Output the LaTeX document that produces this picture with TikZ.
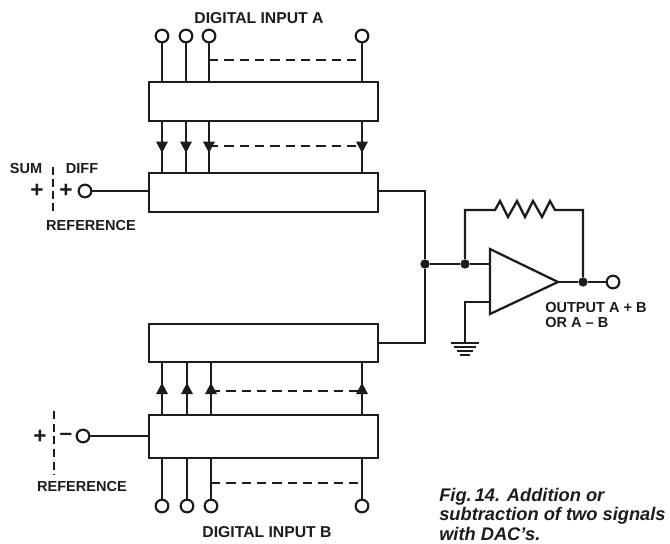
\documentclass[tikz,border=0pt]{standalone}
\usepackage{fontspec}
\setmainfont{Liberation Sans}
\usetikzlibrary{positioning, calc, arrows.meta, decorations.markings}
\definecolor{ink}{HTML}{1C1C1C}

\begin{document}
\begin{tikzpicture}[
    x=0.75pt,
    y=-0.75pt,
    color=ink,
    font=\fontsize{10.9}{11.4}\selectfont\bfseries,
    wire/.style={draw, line width=1.7pt},
    thinwire/.style={draw, line width=1.2pt},
    dashwire/.style={draw, line width=1.2pt, dash pattern=on 7pt off 4.5pt},
    reg/.style={
        draw,
        line width=1.7pt,
        minimum width=171.5pt,
        minimum height=29pt,
        inner sep=0pt
    },
    term/.style={
        draw,
        circle,
        fill=white,
        line width=1.6pt,
        minimum size=9.5pt,
        inner sep=0pt
    },
    dot/.style={circle, fill=ink, minimum size=7pt, inner sep=0pt},
    flow/.style={
        wire,
        postaction={decorate},
        decoration={markings, mark=at position 0.62 with {\arrow{Triangle[width=8.5pt,length=8.5pt]}}}
    },
    title/.style={inner sep=0pt, align=left},
    bigtitle/.style={title, font=\fontsize{11.8}{12}\selectfont\bfseries},
    sign/.style={title, font=\fontsize{17}{17}\selectfont\bfseries}
]
\useasboundingbox (0,0) rectangle (670,543);

% registers
\node[reg] (A1) at (263.5,101.5) {};
\node[reg, below=37.5pt of A1] (A2) {};
\node[reg] (B1) at (263.5,343) {};
\node[reg, below=38pt of B1, minimum height=32pt] (B2) {};

% digital inputs
\node[term] (TA1) at (162,36) {};
\node[term] (TA2) at (186,36) {};
\node[term] (TA3) at (209,36) {};
\node[term] (TA4) at (362,36) {};
\node[term] (TB1) at (162,506) {};
\node[term] (TB2) at (187,506) {};
\node[term] (TB3) at (211,506) {};
\node[term] (TB4) at (362,506) {};

\draw[wire] (TA1) -- (TA1 |- A1.north);
\draw[wire] (TA2) -- (TA2 |- A1.north);
\draw[wire] (TA3) -- (TA3 |- A1.north);
\draw[wire] (TA4) -- (TA4 |- A1.north);
\draw[wire] (TB1) -- (TB1 |- B2.south);
\draw[wire] (TB2) -- (TB2 |- B2.south);
\draw[wire] (TB3) -- (TB3 |- B2.south);
\draw[wire] (TB4) -- (TB4 |- B2.south);

\draw[flow] (TA1 |- A1.south) -- (TA1 |- A2.north);
\draw[flow] (TA2 |- A1.south) -- (TA2 |- A2.north);
\draw[flow] (TA3 |- A1.south) -- (TA3 |- A2.north);
\draw[flow] (TA4 |- A1.south) -- (TA4 |- A2.north);
\draw[flow] (TB1 |- B2.north) -- (TB1 |- B1.south);
\draw[flow] (TB2 |- B2.north) -- (TB2 |- B1.south);
\draw[flow] (TB3 |- B2.north) -- (TB3 |- B1.south);
\draw[flow] (TB4 |- B2.north) -- (TB4 |- B1.south);

% dashed bus lines
\coordinate (BUSA) at (0,60);
\coordinate (LINKA) at (0,146);
\coordinate (LINKB) at (0,391);
\coordinate (BUSB) at (0,483);
\draw[dashwire] (TA3 |- BUSA) -- (TA4 |- BUSA);
\draw[dashwire] (TA3 |- LINKA) -- (TA4 |- LINKA);
\draw[dashwire] (TB3 |- LINKB) -- (TB4 |- LINKB);
\draw[dashwire] (TB3 |- BUSB) -- (TB4 |- BUSB);

\node[bigtitle] (INA) at (259,18) {DIGITAL INPUT A};
\node[bigtitle] (INB) at (267,532) {DIGITAL INPUT B};

% references
\node[term] (RA) at (85,191) {};
\node[term] (RB) at (83,436) {};
\draw[wire] (RA) -- (RA -| A2.west);
\draw[wire] (RB) -- (RB -| B2.west);

\coordinate (SA1) at (53,167);
\coordinate (SA2) at (53,213);
\coordinate (SB1) at (54,411);
\coordinate (SB2) at (54,475);
\draw[draw, line width=1.6pt, dash pattern=on 6pt off 3pt] (SA1) -- (SA2);
\draw[draw, line width=1.6pt, dash pattern=on 6pt off 3.5pt] (SB1) -- (SB2);

\node[title] (SUM) at (26,168) {SUM};
\node[title] (DIFF) at (82,168) {DIFF};
\node[sign] (PA1) at (37,191) {+};
\node[sign] (PA2) at (66,191) {+};
\node[title] (REFA) at (91,225) {REFERENCE};
\node[sign] (PB1) at (40,437) {+};
\node[sign] (PB2) at (66,437) {--};
\node[title] (REFB) at (82,486) {REFERENCE};

% summing node and op amp
\node[dot] (J1) at (425,264) {};
\node[dot] (J2) at (465,264) {};
\node[dot] (J3) at (583,282) {};
\node[term] (OUT) at (613,282) {};
\coordinate (AMPA) at (490,249);
\coordinate (AMPB) at (490,314);
\coordinate (AMPC) at (558,282);
\coordinate (GND) at (465,343);

\draw[wire] (A2.east |- RA) -| (J1);
\draw[thinwire] (B1.east) -| (J1);
\draw[wire] (J1) -- (J2) -- (J2 -| AMPA);
\draw[wire] (AMPA) -- (AMPC) -- (AMPB) -- cycle;
\draw[wire] (AMPC) -- (J3) -- (OUT);
\draw[wire] (J2) |- (495,210) -- (500,201) -- (508,217) -- (517,201) -- (525,217) -- (533,201) -- (542,217) -- (550,201) -- (555,210) -| (J3);
\draw[wire] (AMPA |- 0,302) -| (GND);

% ground
\draw[wire] ($(GND)+(-14,0)$) -- ($(GND)+(14,0)$);
\draw[wire] ($(GND)+(-11,4)$) -- ($(GND)+(11,4)$);
\draw[wire] ($(GND)+(-8,8)$) -- ($(GND)+(8,8)$);
\draw[wire] ($(GND)+(-5,12)$) -- ($(GND)+(5,12)$);

\node[title, anchor=west] (OUTTXT) at (545,315) {OUTPUT A + B\\OR A -- B};

\node[title, anchor=north west, font=\fontsize{13.7}{14.6}\selectfont\bfseries\itshape] (CAP) at (439,488) {Fig.\,14. Addition or\\subtraction of two signals\\with DAC's.};

\end{tikzpicture}
\end{document}
